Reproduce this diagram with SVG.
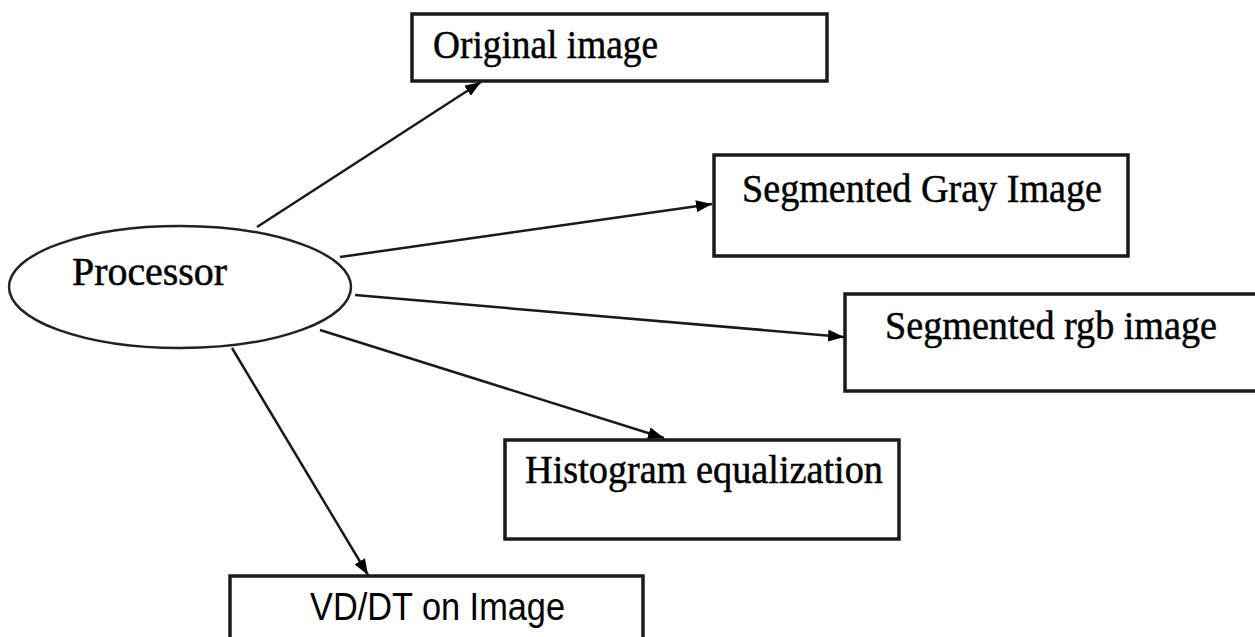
<svg xmlns="http://www.w3.org/2000/svg" width="1255" height="637" viewBox="0 0 1255 637">
  <style>
    .box { fill: #ffffff; stroke: #1a1a1a; stroke-width: 3.5; }
    .oval { fill: #ffffff; stroke: #222222; stroke-width: 2.5; }
    .serif { font-family: "Liberation Serif", "Times New Roman", serif; font-size: 40px; fill: #000000; stroke: #000000; stroke-width: 0.5; }
    .sans { font-family: "Liberation Sans", Arial, sans-serif; font-size: 38px; fill: #000000; }
    .edge { stroke: #1a1a1a; stroke-width: 2.5; fill: none; marker-end: url(#arrow); }
  </style>
  <defs>
    <marker id="arrow" viewBox="0 0 16 12" refX="16" refY="6" markerWidth="16" markerHeight="12" markerUnits="userSpaceOnUse" orient="auto">
      <path d="M0,0 L16,6 L0,12 z" fill="#000000"/>
    </marker>
  </defs>
  <rect width="1255" height="637" fill="#ffffff"/>

  <g id="connectors">
    <line class="edge" x1="257" y1="227" x2="481" y2="82"/>
    <line class="edge" x1="340" y1="257" x2="712" y2="204"/>
    <line class="edge" x1="355" y1="295" x2="844" y2="337"/>
    <line class="edge" x1="320" y1="330" x2="664" y2="438"/>
    <line class="edge" x1="232" y1="348" x2="368" y2="575"/>
  </g>

  <g id="processor">
    <ellipse class="oval" cx="180" cy="287" rx="171" ry="61"/>
    <text class="serif" x="72" y="285" textLength="155" lengthAdjust="spacingAndGlyphs">Processor</text>
  </g>

  <g id="original-image">
    <rect class="box" x="412" y="14" width="415" height="67"/>
    <text class="serif" x="433" y="58" textLength="225" lengthAdjust="spacingAndGlyphs">Original image</text>
  </g>

  <g id="segmented-gray">
    <rect class="box" x="714" y="155" width="414" height="101"/>
    <text class="serif" x="742" y="202" textLength="360" lengthAdjust="spacingAndGlyphs">Segmented Gray Image</text>
  </g>

  <g id="segmented-rgb">
    <rect class="box" x="845" y="294" width="412" height="97"/>
    <text class="serif" x="885" y="339" textLength="332" lengthAdjust="spacingAndGlyphs">Segmented rgb image</text>
  </g>

  <g id="histogram">
    <rect class="box" x="505" y="440" width="394" height="99"/>
    <text class="serif" x="525" y="483" textLength="358" lengthAdjust="spacingAndGlyphs">Histogram equalization</text>
  </g>

  <g id="vd-dt">
    <rect class="box" x="230" y="576" width="413" height="70"/>
    <text class="sans" x="310" y="620" textLength="255" lengthAdjust="spacingAndGlyphs">VD/DT on Image</text>
  </g>
</svg>
